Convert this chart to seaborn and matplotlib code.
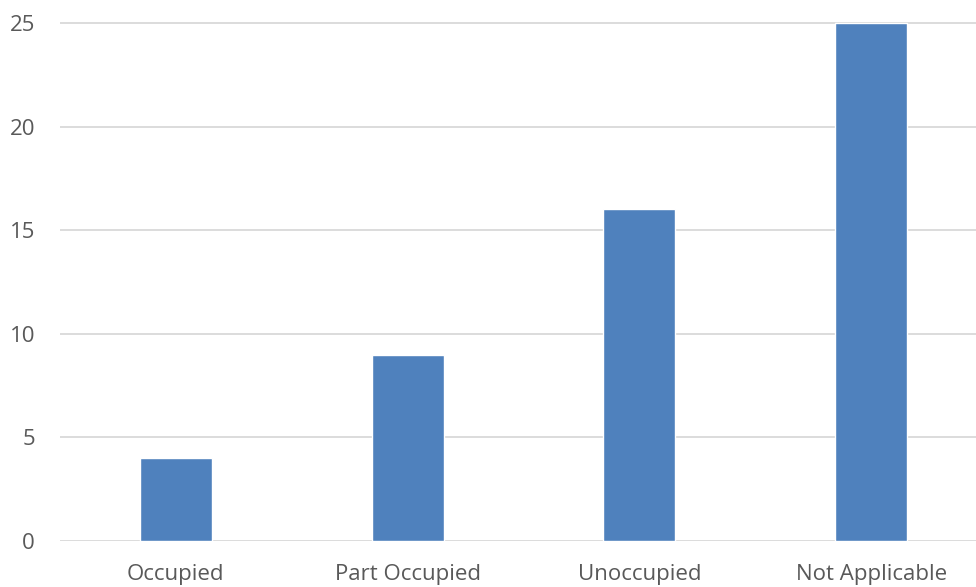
import matplotlib
matplotlib.use("Agg")
import matplotlib.pyplot as plt
import seaborn as sns
import pandas as pd

categories = ["Occupied", "Part Occupied", "Unoccupied", "Not Applicable"]
values = [4, 9, 16, 25]
yticks = [0, 5, 10, 15, 20, 25]

sns.set_theme(style="white")
plt.rcParams['font.family'] = ['Open Sans', 'DejaVu Sans']

df = pd.DataFrame({"cat": categories, "val": values})

W, H = 976, 587
fig = plt.figure(figsize=(W / 100, H / 100), dpi=100)
ppu = 20.72
top_px = 21
ax = fig.add_axes([60 / W, (H - 541) / H, 1 - 60 / W, (541 - top_px) / H])

sns.barplot(data=df, x="cat", y="val", color="#4F81BD", saturation=1,
            width=0.31, ax=ax, zorder=3)

ax.set_xlim(-0.5, (976 - 175) / 232)
ax.set_ylim(0, (541 - top_px) / ppu)
ax.set_yticks(yticks)
ax.set_yticklabels([str(t) for t in yticks])
ax.grid(axis="y", color="#D9D9D9", linewidth=1.3, zorder=0)
ax.set_axisbelow(True)
for s in ax.spines.values():
    s.set_visible(False)
ax.set_xlabel("")
ax.set_ylabel("")
ax.tick_params(axis="y", length=0, pad=18, labelsize=16, labelcolor="#595959")
ax.tick_params(axis="x", length=0, pad=16.5, labelsize=16, labelcolor="#595959")

fig.savefig("out.png", dpi=100)
